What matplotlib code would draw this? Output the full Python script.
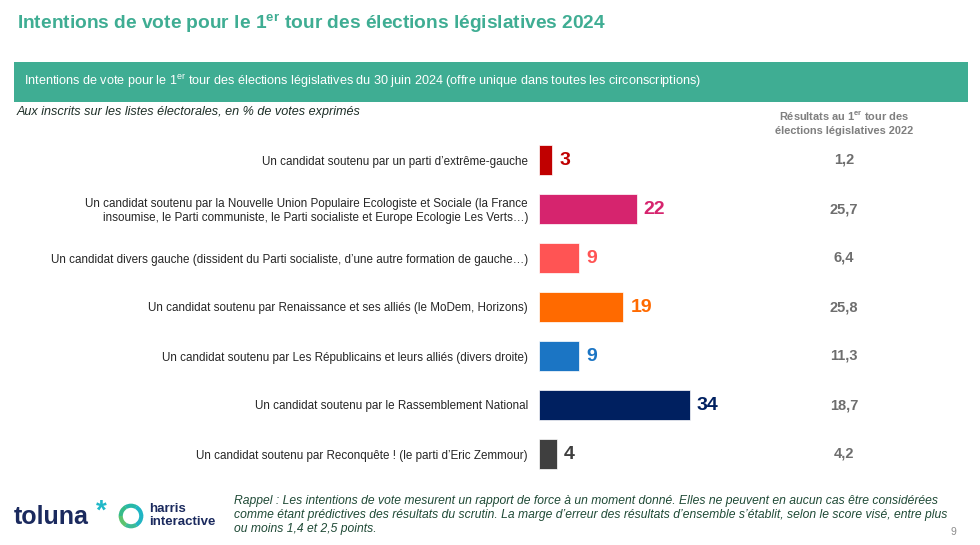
import numpy as np
import matplotlib.pyplot as plt
from matplotlib.patches import Rectangle, Wedge

plt.rcParams['font.family'] = 'Liberation Sans'
plt.rcParams['mathtext.fontset'] = 'custom'
plt.rcParams['mathtext.rm'] = 'Liberation Sans'
plt.rcParams['mathtext.bf'] = 'Liberation Sans:bold'
plt.rcParams['mathtext.it'] = 'Liberation Sans:italic'

# data
categories = [
    "Un candidat soutenu par un parti d\u2019extrême-gauche",
    "Un candidat soutenu par la Nouvelle Union Populaire Ecologiste et Sociale (la France\n"
    "insoumise, le Parti communiste, le Parti socialiste et Europe Ecologie Les Verts\u2026)",
    "Un candidat divers gauche (dissident du Parti socialiste, d\u2019une autre formation de gauche\u2026)",
    "Un candidat soutenu par Renaissance et ses alliés (le MoDem, Horizons)",
    "Un candidat soutenu par Les Républicains et leurs alliés (divers droite)",
    "Un candidat soutenu par le Rassemblement National",
    "Un candidat soutenu par Reconquête ! (le parti d\u2019Eric Zemmour)",
]
intentions_2024 = [3, 22, 9, 19, 9, 34, 4]
results_2022 = ["1,2", "25,7", "6,4", "25,8", "11,3", "18,7", "4,2"]
bar_colors = ["#C00000", "#D6246E", "#FF5454", "#FF6A00", "#1B75C4", "#002060", "#3F3F3F"]

W, H = 980, 545
teal = "#3FAD93"


def fx(x):
    return x / W


def fy(y):
    return 1 - y / H


fig = plt.figure(figsize=(9.8, 5.45), dpi=100)

# title
fig.text(fx(17), fy(24), r"Intentions de vote pour le $\mathbf{1^{er}}$ tour des élections législatives 2024",
         color=teal, fontsize=13.8, fontweight="bold", va="center", ha="left")

# banner
fig.patches.append(Rectangle((fx(14), fy(102)), fx(968 - 14), 40 / H, transform=fig.transFigure,
                             facecolor=teal, edgecolor="none"))
fig.text(fx(24), fy(81), r"Intentions de vote pour le $\mathrm{1^{er}}$ tour des élections législatives du 30 juin 2024 "
         "(offre unique dans toutes les circonscriptions)",
         color="white", fontsize=9.1, va="center", ha="left")

fig.text(fx(17), fy(112), "Aux inscrits sur les listes électorales, en % de votes exprimés",
         color="#1E2F28", fontsize=9.1, style="italic", va="center", ha="left")

# 2022 header
fig.text(fx(844), fy(123), "Résultats au $\\mathbf{1^{er}}$ tour des\nélections législatives 2022",
         color="#7F7F7F", fontsize=7.9, fontweight="bold", ha="center", va="center",
         multialignment="center", linespacing=1.3)

# bar axes
px_per_unit = 151 / 34
ax = fig.add_axes([fx(539), fy(478.5), 40 * px_per_unit / W, 343 / H])
y = np.arange(len(categories))
ax.barh(y, intentions_2024, height=0.61, color=bar_colors, edgecolor="white", linewidth=0.5)
ax.set_xlim(0, 40)
ax.set_ylim(len(categories) - 0.5, -0.5)
ax.set_yticks(y)
ax.set_yticklabels(categories, fontsize=8.4, color="#262626", ha="right", multialignment="right")
ax.tick_params(axis="y", length=0, pad=8)
ax.set_xticks([])
for s in ax.spines.values():
    s.set_visible(False)
ax.patch.set_alpha(0)

for i, (v, c) in enumerate(zip(intentions_2024, bar_colors)):
    ax.annotate(str(v), (v, i), xytext=(5, -0.5), textcoords="offset points",
                color=c, fontsize=14, fontweight="bold", va="center", ha="left")
    ax.annotate(results_2022[i], (0, i), xycoords=("figure fraction", "data"),
                xytext=(fx(844), 0), textcoords=("figure fraction", "offset points"),
                color="#6E6E6E", fontsize=10.5, fontweight="bold", va="center", ha="center")

# footer note
fig.text(fx(234), fy(515), "Rappel : Les intentions de vote mesurent un rapport de force à un moment donné. "
         "Elles ne peuvent en aucun cas être considérées\ncomme étant prédictives des résultats du scrutin. "
         "La marge d\u2019erreur des résultats d\u2019ensemble s\u2019établit, selon le score visé, entre plus\n"
         "ou moins 1,4 et 2,5 points.",
         color="#1F4A36", fontsize=8.75, style="italic", va="center", ha="left", linespacing=1.2)
fig.text(fx(953), fy(532), "9", color="#8C8C8C", fontsize=7.5, va="center", ha="center")

# logos (approximate)
fig.text(fx(14), fy(517), "toluna", color="#1B2A5E", fontsize=18, fontweight="bold", va="center", ha="left")
fig.text(fx(96), fy(512), "*", color="#20B8C8", fontsize=20, fontweight="bold", va="center", ha="left")
lax = fig.add_axes([fx(118), fy(529), 26 / W, 26 / H])
lax.set_xlim(-1, 1)
lax.set_ylim(-1, 1)
lax.set_aspect("equal")
lax.axis("off")
ring_colors = ["#1FB5C4", "#27B8A8", "#35BB8A", "#5CC36F", "#3DBB96", "#22B4C2"]
for k, rc in enumerate(ring_colors):
    lax.add_patch(Wedge((0, 0), 0.95, k * 60, (k + 1) * 60 + 1, width=0.32, color=rc, lw=0))
fig.text(fx(149), fy(509), "harris", color="#1B2A5E", fontsize=9.5, fontweight="bold", va="center", ha="left")
fig.text(fx(149), fy(522), "interactive", color="#1B2A5E", fontsize=9.5, fontweight="bold", va="center", ha="left")

fig.savefig("out.png", dpi=100)
